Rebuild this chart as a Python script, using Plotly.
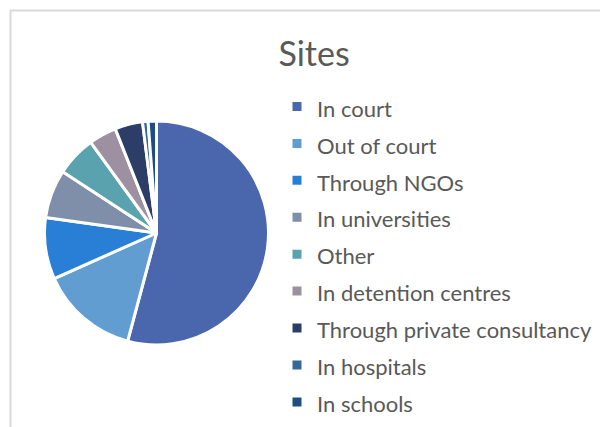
import plotly.graph_objects as go

categories = ["In court", "Out of court", "Through NGOs", "In universities", "Other",
              "In detention centres", "Through private consultancy", "In hospitals", "In schools"]
values = [54.2, 14.2, 8.9, 7.0, 5.8, 4.0, 4.0, 0.8, 1.2]
colors = ["#4a66ac", "#629dd1", "#297fd5", "#7f8fa9", "#5aa2ae",
          "#9d90a0", "#2c3d67", "#35679a", "#1c4e85"]

W, H = 608, 427
OFF = 8  # page body margin
cx, cy, r = 156.5 - OFF, 233 - OFF, 112

legend_labels = ['<span style="font-size:22px">%s</span>' % c for c in categories]

fig = go.Figure(go.Pie(
    labels=legend_labels,
    values=values,
    sort=False,
    direction="clockwise",
    rotation=0,
    marker=dict(colors=colors, line=dict(color="white", width=3)),
    textinfo="none",
    hoverinfo="skip",
    domain=dict(x=[(cx - r) / W, (cx + r) / W], y=[1 - (cy + r) / H, 1 - (cy - r) / H]),
))

fig.update_layout(
    width=W, height=H,
    margin=dict(l=0, r=0, t=0, b=0),
    paper_bgcolor="white",
    plot_bgcolor="white",
    font=dict(family="Lato, Carlito, sans-serif", color="#595959"),
    title=dict(text="Sites", x=(314 - OFF) / W, xanchor="center", y=1 - (54.5 - OFF) / H, yanchor="middle",
               font=dict(size=34, color="#595959", family="Lato, sans-serif")),
    showlegend=True,
    legend=dict(x=(277 - OFF) / W, xanchor="left", y=1 - (83 - OFF) / H, yanchor="top",
                font=dict(size=26.1, color="#595959"), bgcolor="rgba(0,0,0,0)",
                itemclick=False, itemdoubleclick=False),
    shapes=[dict(type="path", xref="paper", yref="paper",
                 path="M %f,-0.2 L %f,%f L 1.2,%f" % ((10.5 - OFF) / W, (10.5 - OFF) / W,
                                                     1 - (10.5 - OFF) / H, 1 - (10.5 - OFF) / H),
                 line=dict(color="#d9d9d9", width=2))],
)

fig.write_html("out.html")
